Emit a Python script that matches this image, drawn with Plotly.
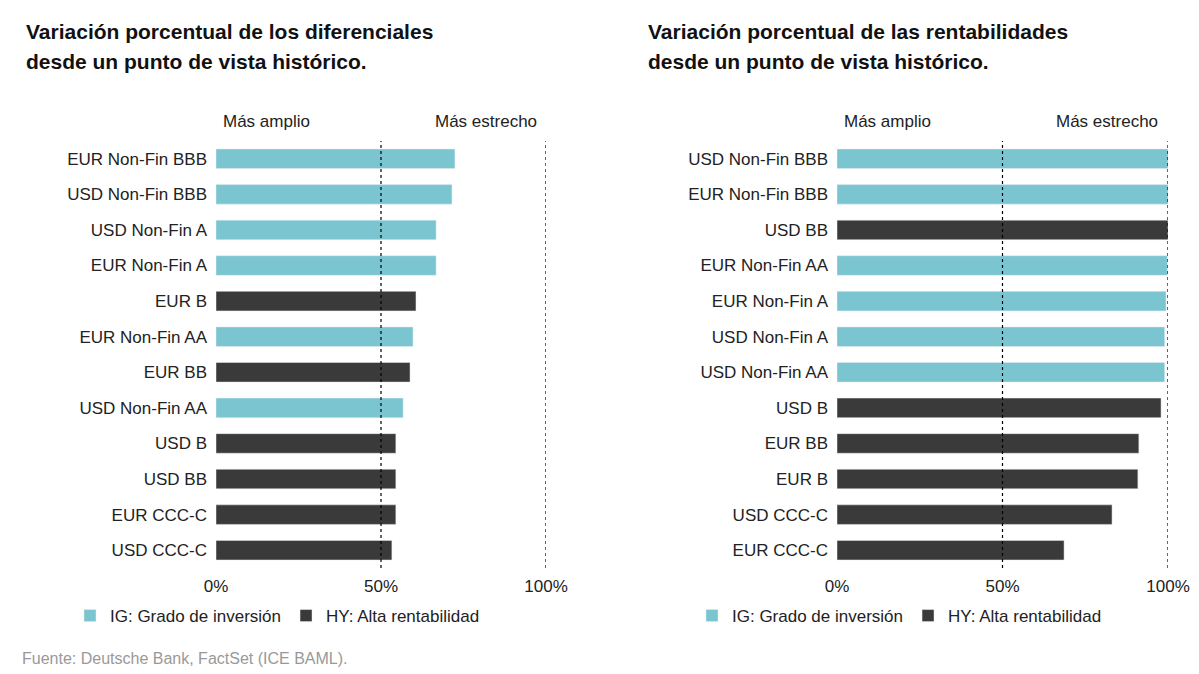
import plotly.graph_objects as go
from plotly.subplots import make_subplots

IG = "#7ac5d0"
HY = "#3a3a3a"

# Left: spreads
cats_l = ["EUR Non-Fin BBB", "USD Non-Fin BBB", "USD Non-Fin A", "EUR Non-Fin A", "EUR B",
          "EUR Non-Fin AA", "EUR BB", "USD Non-Fin AA", "USD B", "USD BB", "EUR CCC-C", "USD CCC-C"]
vals_l = [72.4, 71.5, 66.7, 66.7, 60.6, 59.7, 58.8, 56.7, 54.5, 54.5, 54.5, 53.3]
grp_l = ["IG", "IG", "IG", "IG", "HY", "IG", "HY", "IG", "HY", "HY", "HY", "HY"]

# Right: yields
cats_r = ["USD Non-Fin BBB", "EUR Non-Fin BBB", "USD BB", "EUR Non-Fin AA", "EUR Non-Fin A",
          "USD Non-Fin A", "USD Non-Fin AA", "USD B", "EUR BB", "EUR B", "USD CCC-C", "EUR CCC-C"]
vals_r = [100, 100, 100, 99.8, 99.4, 99.0, 99.0, 97.9, 91.2, 90.9, 83.1, 68.6]
grp_r = ["IG", "IG", "HY", "IG", "IG", "IG", "IG", "HY", "HY", "HY", "HY", "HY"]

names = {"IG": "IG: Grado de inversión", "HY": "HY: Alta rentabilidad"}
colors = {"IG": IG, "HY": HY}

fig = make_subplots(rows=1, cols=2)

for col, cats, vals, grp, leg in [(1, cats_l, vals_l, grp_l, "legend"), (2, cats_r, vals_r, grp_r, "legend2")]:
    for g in ["IG", "HY"]:
        ys = [c for c, gg in zip(cats, grp) if gg == g]
        xs = [v for v, gg in zip(vals, grp) if gg == g]
        fig.add_trace(go.Bar(x=xs, y=ys, orientation="h", name=names[g], marker_color=colors[g],
                             width=0.55, legend=leg), row=1, col=col)
    fig.update_yaxes(categoryorder="array", categoryarray=cats[::-1], row=1, col=col)
    ax = "" if col == 1 else "2"
    for v in [50, 100]:
        fig.add_shape(type="line", x0=v, x1=v, y0=0, y1=1, xref=f"x{ax}",
                      yref=f"y{ax} domain", line=dict(color="black", width=1.2, dash="dot"))

ydom = [1 - 560 / 674, 1 - 133 / 674]
fig.update_xaxes(range=[0, 100], tickvals=[0, 50, 100], ticktext=["0%", "50%", "100%"],
                 showgrid=False, zeroline=False, tickfont=dict(size=17, color="#222"), ticks="",
                 automargin=False, ticklabelstandoff=6)
fig.update_yaxes(showgrid=False, tickfont=dict(size=17, color="#222"), ticks="", domain=ydom,
                 automargin=False, ticklabelstandoff=8)
fig.update_layout(xaxis=dict(domain=[208 / 1199, 538 / 1199]),
                  xaxis2=dict(domain=[829 / 1199, 1160 / 1199]))

ann = [
    (16, 23, "<b>Variación porcentual de los diferenciales</b>", 21, "#111", "left"),
    (16, 54, "<b>desde un punto de vista histórico.</b>", 21, "#111", "left"),
    (638, 23, "<b>Variación porcentual de las rentabilidades</b>", 21, "#111", "left"),
    (638, 54, "<b>desde un punto de vista histórico.</b>", 21, "#111", "left"),
    (258, 114, "Más amplio", 17, "#222", "center"),
    (478, 114, "Más estrecho", 17, "#222", "center"),
    (879, 114, "Más amplio", 17, "#222", "center"),
    (1099, 114, "Más estrecho", 17, "#222", "center"),
    (12, 650, "Fuente: Deutsche Bank, FactSet (ICE BAML).", 16, "#999", "left"),
]
for x, y, t, s, c, a in ann:
    fig.add_annotation(x=x / 1199, y=1 - y / 674, xref="paper", yref="paper", text=t, showarrow=False,
                       xanchor=a, yanchor="middle", font=dict(size=s, color=c))

legstyle = dict(orientation="h", yanchor="middle", y=1 - 608 / 674, xanchor="left",
                font=dict(size=17, color="#222"), bgcolor="rgba(0,0,0,0)", itemwidth=30,
                tracegroupgap=0)
fig.update_layout(
    width=1199, height=674, margin=dict(l=0, r=0, t=0, b=0),
    plot_bgcolor="white", paper_bgcolor="white", barmode="overlay",
    font=dict(family="Liberation Sans"),
    legend=dict(x=62 / 1199, **legstyle),
    legend2=dict(x=684 / 1199, **legstyle),
)

fig.write_html("out.html")
